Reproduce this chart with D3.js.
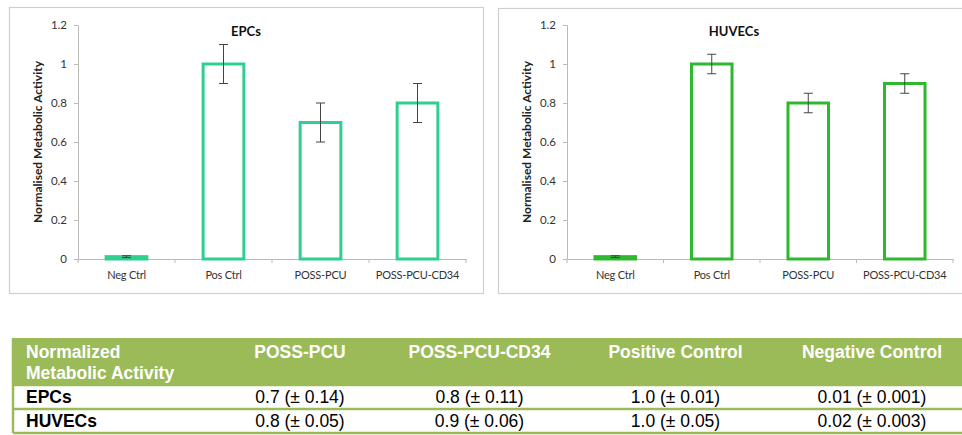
<!DOCTYPE html>
<html>
<head>
<meta charset="utf-8">
<style>
  body { margin: 0; background: #fff; }
  svg { display: block; }
  .tick text { fill: #333; }
</style>
</head>
<body>
<svg width="962" height="435"></svg>
<script src="https://d3js.org/d3.v7.min.js"></script>
<script>

var categories = ["Neg Ctrl", "Pos Ctrl", "POSS-PCU", "POSS-PCU-CD34"];
var epcValues = [0.012, 1.0, 0.7, 0.8];
var epcErrors = [0.005, 0.1, 0.1, 0.1];
var huvecValues = [0.012, 1.0, 0.8, 0.9];
var huvecErrors = [0.005, 0.05, 0.05, 0.05];
var yTicks = [0, 0.2, 0.4, 0.6, 0.8, 1, 1.2];

var tableHeader = ["Normalized\nMetabolic Activity", "POSS-PCU", "POSS-PCU-CD34", "Positive Control", "Negative Control"];
var tableRows = [
  ["EPCs", "0.7 (\u00b1 0.14)", "0.8 (\u00b1 0.11)", "1.0 (\u00b1 0.01)", "0.01 (\u00b1 0.001)"],
  ["HUVECs", "0.8 (\u00b1 0.05)", "0.9 (\u00b1 0.06)", "1.0 (\u00b1 0.05)", "0.02 (\u00b1 0.003)"]
];

var svg = d3.select("svg");
var chartFont = "Lato, 'Open Sans', sans-serif";

function panel(opts) {
  var g = svg.append("g");

  g.append("rect")
      .attr("x", opts.box[0] + 0.5).attr("y", opts.box[1] + 0.5)
      .attr("width", opts.box[2]).attr("height", opts.box[3])
      .attr("fill", "#fff").attr("stroke", "#cfcfcf").attr("stroke-width", 1.2);

  var x = d3.scaleBand()
      .domain(categories)
      .range([opts.x0, opts.x1])
      .paddingInner(0.58).paddingOuter(0.29);

  var y = d3.scaleLinear().domain([0, 1.2]).range([259, 25]);

  var yAxis = g.append("g")
      .attr("transform", "translate(" + opts.x0 + ",0)")
      .call(d3.axisLeft(y).tickValues(yTicks).tickSize(4).tickPadding(7)
        .tickFormat(function(d) { return d3.format("")(+d.toFixed(1)); }));
  yAxis.select(".domain").attr("stroke", "#bbb");
  yAxis.selectAll(".tick line").attr("stroke", "#bbb");
  yAxis.selectAll("text").attr("font-family", chartFont).attr("font-size", 11.5);

  var xAxis = g.append("g")
      .attr("transform", "translate(0,259)")
      .call(d3.axisBottom(x).tickSize(0).tickPadding(12).tickSizeOuter(0));
  xAxis.select(".domain").attr("stroke", "#bbb");
  xAxis.selectAll("text").attr("font-family", chartFont).attr("font-size", 11)
      .attr("letter-spacing", -0.2);

  // category boundary ticks
  var step = x.step();
  g.selectAll(".btick")
    .data(d3.range(categories.length + 1))
    .enter().append("line")
      .attr("x1", function(i) { return opts.x0 + i * step; })
      .attr("x2", function(i) { return opts.x0 + i * step; })
      .attr("y1", 259).attr("y2", 263)
      .attr("stroke", "#bbb");

  g.selectAll(".bar")
    .data(categories)
    .enter().append("rect")
      .attr("x", function(d) { return x(d); })
      .attr("width", x.bandwidth())
      .attr("y", function(d, i) { return y(opts.values[i]); })
      .attr("height", function(d, i) { return y(0) - y(opts.values[i]); })
      .attr("fill", function(d, i) { return i === 0 ? opts.color : "#fff"; })
      .attr("stroke", opts.color)
      .attr("stroke-width", 3);

  var err = g.selectAll(".err")
    .data(categories)
    .enter().append("g")
      .attr("stroke", "#444").attr("stroke-width", 1);
  err.append("line")
      .attr("x1", function(d) { return x(d) + x.bandwidth() / 2; })
      .attr("x2", function(d) { return x(d) + x.bandwidth() / 2; })
      .attr("y1", function(d, i) { return y(opts.values[i] + opts.errors[i]); })
      .attr("y2", function(d, i) { return y(opts.values[i] - opts.errors[i]); });
  [1, -1].forEach(function(s) {
    err.append("line")
        .attr("x1", function(d) { return x(d) + x.bandwidth() / 2 - 4.5; })
        .attr("x2", function(d) { return x(d) + x.bandwidth() / 2 + 4.5; })
        .attr("y1", function(d, i) { return y(opts.values[i] + s * opts.errors[i]); })
        .attr("y2", function(d, i) { return y(opts.values[i] + s * opts.errors[i]); });
  });

  g.append("text")
      .attr("x", opts.titleX).attr("y", 36)
      .attr("text-anchor", "middle")
      .attr("font-family", chartFont).attr("font-weight", "bold").attr("font-size", 13)
      .attr("fill", "#111")
      .text(opts.title);

  g.append("text")
      .attr("transform", "translate(" + (opts.x0 - 36) + ",142) rotate(-90)")
      .attr("text-anchor", "middle")
      .attr("font-family", chartFont).attr("font-weight", "bold").attr("font-size", 12)
      .attr("fill", "#222")
      .text("Normalised Metabolic Activity");
}

panel({ box: [9, 7, 474, 286], x0: 78, x1: 466, values: epcValues, errors: epcErrors,
        color: "#2fcf8f", title: "EPCs", titleX: 246 });
panel({ box: [498, 8, 470, 285], x0: 567, x1: 953, values: huvecValues, errors: huvecErrors,
        color: "#2eb82e", title: "HUVECs", titleX: 734 });

// table
var colEdges = [13, 216, 384, 575, 776, 968];
var rowEdges = [338, 385, 409, 433];
var green = "#9bbb59";
var tableFont = "'Liberation Sans', Arial, sans-serif";
var t = svg.append("g");

t.append("rect")
    .attr("x", colEdges[0]).attr("y", rowEdges[0])
    .attr("width", colEdges[5] - colEdges[0]).attr("height", rowEdges[1] - rowEdges[0])
    .attr("fill", green);

t.selectAll(".rowline")
  .data(rowEdges.slice(1))
  .enter().append("line")
    .attr("x1", colEdges[0]).attr("x2", colEdges[5])
    .attr("y1", function(d) { return d; }).attr("y2", function(d) { return d; })
    .attr("stroke", green).attr("stroke-width", 2.5);

t.append("line")
    .attr("x1", colEdges[0]).attr("x2", colEdges[0])
    .attr("y1", rowEdges[0]).attr("y2", rowEdges[3])
    .attr("stroke", green).attr("stroke-width", 2.5);

tableHeader.forEach(function(h, i) {
  var lines = h.split("\n");
  var tx = t.append("text")
      .attr("font-family", tableFont).attr("font-weight", "bold").attr("font-size", 17.5)
      .attr("fill", "#fff")
      .attr("text-anchor", i === 0 ? "start" : "middle");
  lines.forEach(function(l, j) {
    tx.append("tspan")
        .attr("x", i === 0 ? 26 : (colEdges[i] + colEdges[i + 1]) / 2)
        .attr("y", 358 + j * 21)
        .text(l);
  });
});

tableRows.forEach(function(row, r) {
  row.forEach(function(cell, i) {
    t.append("text")
        .attr("x", i === 0 ? 26 : (colEdges[i] + colEdges[i + 1]) / 2)
        .attr("y", (rowEdges[r + 1] + rowEdges[r + 2]) / 2 + 6)
        .attr("text-anchor", i === 0 ? "start" : "middle")
        .attr("font-family", tableFont)
        .attr("font-weight", i === 0 ? "bold" : "normal")
        .attr("font-size", 17.5)
        .attr("fill", "#000")
        .text(cell);
  });
});

</script>
</body>
</html>
